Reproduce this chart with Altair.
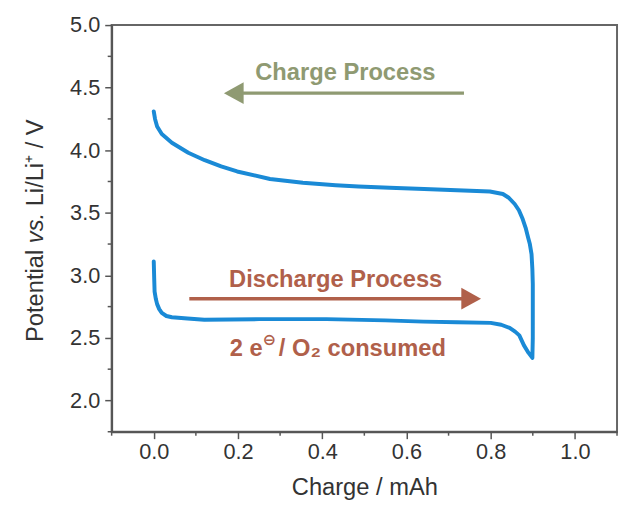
import altair as alt
import pandas as pd

# Discharge curve (x = charge / mAh, y = potential / V)
dis_x = [0.0, 0.001, 0.002, 0.005, 0.008, 0.013, 0.019, 0.03, 0.043, 0.08, 0.12, 0.25, 0.41, 0.55, 0.64, 0.72, 0.80, 0.825, 0.845, 0.858, 0.868, 0.879, 0.89, 0.899]
dis_y = [3.11, 2.98, 2.87, 2.81, 2.77, 2.73, 2.70, 2.675, 2.665, 2.655, 2.645, 2.65, 2.65, 2.64, 2.63, 2.625, 2.62, 2.605, 2.58, 2.55, 2.52, 2.44, 2.38, 2.34]
# Charge curve (continues from end of discharge, back to x = 0)
chg_x = [0.899, 0.900, 0.900, 0.900, 0.899, 0.897, 0.893, 0.889, 0.883, 0.876, 0.867, 0.857, 0.843, 0.829, 0.798, 0.72, 0.642, 0.56, 0.486, 0.432, 0.354, 0.276, 0.198, 0.16, 0.121, 0.082, 0.043, 0.019, 0.008, 0.003, 0.0]
chg_y = [2.34, 2.50, 2.66, 2.93, 3.05, 3.17, 3.25, 3.30, 3.38, 3.45, 3.52, 3.57, 3.62, 3.65, 3.67, 3.68, 3.69, 3.70, 3.71, 3.72, 3.74, 3.77, 3.83, 3.87, 3.92, 3.98, 4.06, 4.13, 4.19, 4.25, 4.31]

x_major = [0.0, 0.2, 0.4, 0.6, 0.8, 1.0]
x_minor = [-0.1, 0.1, 0.3, 0.5, 0.7, 0.9, 1.1]
y_major = [2.0, 2.5, 3.0, 3.5, 4.0, 4.5, 5.0]
y_minor = [1.75, 2.25, 2.75, 3.25, 3.75, 4.25, 4.75]

# y-axis title pieces (normal / italic / normal)
ytitle_parts = ["Potential", "vs.", "Li/Li\u207a / V"]
ytitle_style = ["normal", "italic", "normal"]

BLUE = "#1a8ad6"
GREEN = "#8f9a72"
BROWN = "#b0604a"
TICK = "#555555"
TXT = "#333333"
FONT = "Liberation Sans"
H = 412

curve = pd.DataFrame({
    "x": dis_x + chg_x,
    "y": dis_y + chg_y,
    "o": list(range(len(dis_x) + len(chg_x))),
})

xs = alt.Scale(domain=[-0.1, 1.1], nice=False, zero=False)
ys = alt.Scale(domain=[1.75, 5.0], nice=False, zero=False)

x_axis = alt.Axis(values=x_major, format=".1f", title="Charge / mAh", tickSize=7,
                  labelOverlap=False, labelFlush=False, grid=False,
                  labelPadding=3, titlePadding=14)
y_axis = alt.Axis(values=y_major, format=".1f", title=None, tickSize=7,
                  labelOverlap=False, labelFlush=False, grid=False,
                  labelPadding=5)

line = alt.Chart(curve).mark_line(color=BLUE, strokeWidth=4, strokeCap="round", strokeJoin="round").encode(
    x=alt.X("x:Q", scale=xs, axis=x_axis),
    y=alt.Y("y:Q", scale=ys, axis=y_axis),
    order="o:Q",
)

# minor ticks
xm = alt.Chart(pd.DataFrame({"v": x_minor})).mark_rule(color=TICK, strokeWidth=1.5).encode(
    x=alt.X("v:Q", scale=xs), y=alt.value(H), y2=alt.value(H + 4))
ym = alt.Chart(pd.DataFrame({"v": y_minor})).mark_rule(color=TICK, strokeWidth=1.5).encode(
    y=alt.Y("v:Q", scale=ys), x=alt.value(0), x2=alt.value(-4))

# y-axis title as rotated text pieces (24px Liberation Sans advance widths incl. spaces)
yt_layers = []
pos = 321.0
advances = [(3.891 + 0.278) * 24, (1.278 + 0.278) * 24]
for i, (part, style) in enumerate(zip(ytitle_parts, ytitle_style)):
    yt_layers.append(
        alt.Chart(pd.DataFrame({"t": [part]})).mark_text(
            font=FONT, fontSize=24, fontStyle=style, angle=270, align="left",
            baseline="alphabetic", color=TXT,
        ).encode(text="t:N", x=alt.value(-70), y=alt.value(pos))
    )
    if i < len(advances):
        pos -= advances[i]

# Arrows
shafts = pd.DataFrame({
    "x": [0.7366, 0.0844], "x2": [0.212, 0.733],
    "y": [4.456, 2.813], "c": ["g", "b"],
})
heads = pd.DataFrame({"x": [0.190, 0.7537], "y": [4.456, 2.813], "c": ["g", "b"],
                      "s": ["M-1,0L1,-1.1L1,1.1Z", "M1,0L-1,-1.1L-1,1.1Z"]})
cscale = alt.Scale(domain=["g", "b"], range=[GREEN, BROWN])

shaft = alt.Chart(shafts).mark_rule(strokeWidth=3.5).encode(
    x="x:Q", x2="x2:Q", y="y:Q",
    color=alt.Color("c:N", scale=cscale, legend=None),
)
head = alt.Chart(heads).mark_point(filled=True, size=400, opacity=1).encode(
    x="x:Q", y="y:Q",
    shape=alt.Shape("s:N", scale=None),
    color=alt.Color("c:N", scale=cscale, legend=None),
)

labels = pd.DataFrame({
    "x": [0.455, 0.432],
    "y": [4.62, 2.964],
    "t": ["Charge Process", "Discharge Process"],
    "c": ["g", "b"],
})
text_main = alt.Chart(labels).mark_text(font=FONT, fontSize=24, fontWeight="bold", baseline="middle").encode(
    x="x:Q", y="y:Q", text="t:N",
    color=alt.Color("c:N", scale=cscale, legend=None),
)

t2 = pd.DataFrame({"x": [0.2585], "y": [2.413], "t": ["2 e"]})
t3 = pd.DataFrame({"x": [0.2585], "y": [2.485], "t": ["\u2296"]})
t4 = pd.DataFrame({"x": [0.297], "y": [2.413], "t": ["/ O\u2082 consumed"]})
txt2 = alt.Chart(t2).mark_text(font=FONT, fontSize=24, fontWeight="bold", baseline="middle", align="right", color=BROWN).encode(
    x="x:Q", y="y:Q", text="t:N")
txt3 = alt.Chart(t3).mark_text(font="DejaVu Sans", fontSize=16, fontWeight="bold", baseline="middle", align="left", color=BROWN, dx=0).encode(
    x="x:Q", y="y:Q", text="t:N")
txt4 = alt.Chart(t4).mark_text(font=FONT, fontSize=24, fontWeight="bold", baseline="middle", align="left", color=BROWN).encode(
    x="x:Q", y="y:Q", text="t:N")

chart = alt.layer(line, xm, ym, *yt_layers, shaft, head, text_main, txt2, txt3, txt4).properties(
    width=512, height=H,
    autosize=alt.AutoSizeParams(type="none"),
    padding={"left": 105, "top": 14, "right": 2, "bottom": 77},
).configure_view(
    stroke="#666666", strokeWidth=2,
).configure_axis(
    labelFont=FONT, titleFont=FONT, labelFontSize=22, titleFontSize=24,
    labelColor=TXT, titleColor=TXT, titleFontWeight="normal",
    domainColor=TICK, domainWidth=2, tickColor=TICK, tickWidth=1.5,
)

chart.save("out.html", embed_options={"renderer": "svg", "actions": False})
